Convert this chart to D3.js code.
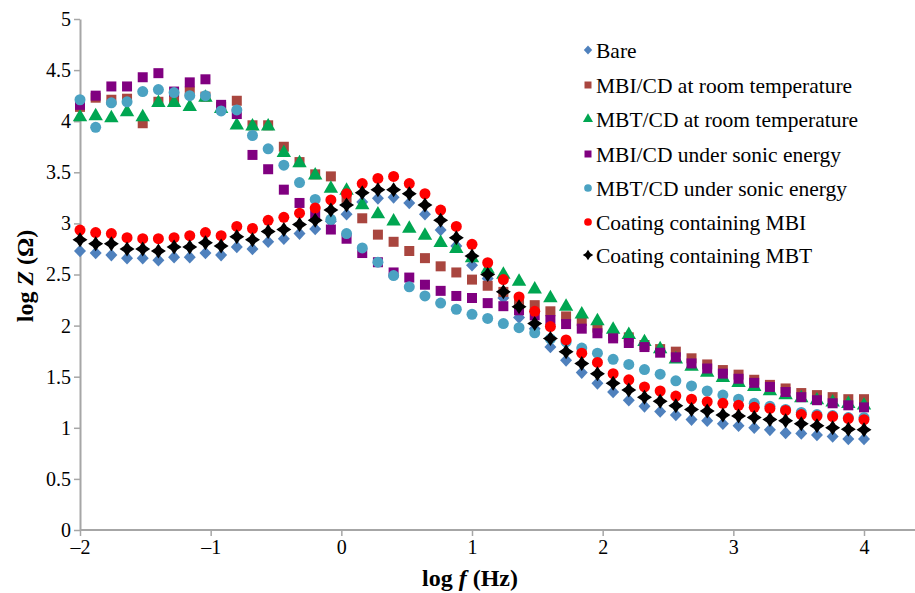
<!DOCTYPE html>
<html><head><meta charset="utf-8">
<script src="https://cdn.jsdelivr.net/npm/d3@7"></script>
<style>
html,body{margin:0;padding:0;background:#fff;}
svg text{font-family:"Liberation Serif","Times New Roman",serif;}
</style></head>
<body>
<svg id="chart" width="915" height="593"></svg>
<script>
// log f values (51 points, -2 .. 4)
const logF = [-2,-1.88,-1.76,-1.64,-1.52,-1.4,-1.28,-1.16,-1.04,-0.92,-0.8,-0.68,-0.56,-0.44,-0.32,-0.2,-0.08,0.04,0.16,0.28,0.4,0.52,0.64,0.76,0.88,1,1.12,1.24,1.36,1.48,1.6,1.72,1.84,1.96,2.08,2.2,2.32,2.44,2.56,2.68,2.8,2.92,3.04,3.16,3.28,3.4,3.52,3.64,3.76,3.88,4];

const bare = [2.73,2.71,2.69,2.66,2.66,2.64,2.67,2.67,2.71,2.69,2.77,2.75,2.82,2.85,2.90,2.945,3.02,3.09,3.21,3.245,3.255,3.20,3.09,2.935,2.78,2.59,2.46,2.27,2.08,1.97,1.79,1.66,1.54,1.435,1.35,1.27,1.21,1.16,1.125,1.08,1.07,1.04,1.02,1.00,0.98,0.95,0.945,0.93,0.915,0.89,0.89];
const mbiRoom = [4.14,4.23,4.21,4.22,3.98,4.19,4.21,4.29,4.24,4.14,4.20,3.96,3.96,3.75,3.60,3.48,3.46,3.25,3.05,2.89,2.82,2.73,2.66,2.58,2.52,2.45,2.39,2.33,2.25,2.20,2.14,2.09,2.045,1.98,1.90,1.885,1.81,1.77,1.745,1.68,1.62,1.565,1.52,1.47,1.42,1.385,1.34,1.32,1.30,1.28,1.28];
const mbtRoom = [4.04,4.05,4.03,4.09,4.04,4.18,4.18,4.14,4.23,4.12,3.96,3.95,3.95,3.69,3.59,3.47,3.34,3.32,3.18,3.09,3.02,2.95,2.88,2.81,2.75,2.66,2.55,2.50,2.43,2.355,2.27,2.185,2.11,2.045,1.96,1.91,1.84,1.77,1.67,1.60,1.54,1.49,1.44,1.40,1.36,1.32,1.29,1.27,1.25,1.235,1.22];
const mbiSonic = [4.16,4.25,4.34,4.34,4.43,4.47,4.29,4.38,4.41,4.16,4.07,3.67,3.53,3.33,3.20,3.08,2.94,2.85,2.71,2.62,2.52,2.47,2.40,2.34,2.29,2.27,2.22,2.19,2.15,2.10,2.055,2.015,1.97,1.925,1.875,1.83,1.79,1.735,1.69,1.63,1.58,1.53,1.48,1.44,1.40,1.35,1.30,1.27,1.24,1.22,1.20];
const mbtSonic = [4.21,3.94,4.18,4.19,4.29,4.31,4.28,4.25,4.25,4.10,4.11,3.86,3.73,3.57,3.40,3.235,3.04,2.90,2.76,2.62,2.49,2.38,2.29,2.22,2.16,2.11,2.07,2.02,1.98,1.93,1.87,1.84,1.78,1.73,1.67,1.62,1.57,1.525,1.46,1.41,1.36,1.32,1.28,1.24,1.21,1.18,1.15,1.13,1.12,1.10,1.10];
const coatMBI = [2.935,2.91,2.90,2.86,2.85,2.85,2.86,2.88,2.91,2.88,2.97,2.95,3.03,3.06,3.10,3.15,3.23,3.29,3.39,3.44,3.46,3.39,3.29,3.13,2.97,2.795,2.615,2.45,2.28,2.14,1.99,1.86,1.73,1.64,1.53,1.47,1.40,1.36,1.31,1.28,1.255,1.24,1.22,1.20,1.19,1.17,1.13,1.115,1.11,1.09,1.08];
const coatMBT = [2.84,2.80,2.80,2.75,2.75,2.73,2.77,2.77,2.81,2.78,2.87,2.84,2.92,2.94,2.99,3.03,3.13,3.18,3.30,3.33,3.33,3.29,3.18,3.03,2.86,2.68,2.50,2.33,2.185,2.02,1.875,1.745,1.63,1.53,1.435,1.37,1.30,1.26,1.215,1.18,1.165,1.125,1.115,1.10,1.08,1.07,1.04,1.02,1.00,0.985,0.98];

const seriesNames = ["Bare","MBI/CD at room temperature","MBT/CD at room temperature","MBI/CD under sonic energy","MBT/CD under sonic energy","Coating containing MBI","Coating containing MBT"];
const seriesValues = [bare, mbiRoom, mbtRoom, mbiSonic, mbtSonic, coatMBI, coatMBT];
const seriesColors = ["#4F81BD","#A9463F","#00A651","#800080","#4BA2C2","#FF0000","#000000"];
const seriesShapes = ["diamond","square","triangle","square","circle","circle","star"];

const xTicks = [-2,-1,0,1,2,3,4];
const xTickLabels = ["\u20132","\u20131","0","1","2","3","4"];
const yTicks = [0,0.5,1,1.5,2,2.5,3,3.5,4,4.5,5];

const svg = d3.select("#chart");
const x = d3.scaleLinear().domain([-2,4]).range([80,864]);
const y = d3.scaleLinear().domain([0,5]).range([530,19]);

const axisColor = "#A6A6A6";

// y axis
const yAxis = svg.append("g").attr("transform","translate(80,0)")
  .call(d3.axisLeft(y).tickValues(yTicks).tickSize(6).tickSizeOuter(0).tickFormat(d3.format("")));
yAxis.select(".domain").attr("stroke",axisColor).attr("stroke-width",2);
yAxis.selectAll(".tick line").attr("stroke",axisColor).attr("stroke-width",1.5);
yAxis.selectAll(".tick text").attr("font-size",20).attr("fill","#000").attr("x",-9)
  .attr("font-family","Liberation Serif, serif");

// x axis
const xAxis = svg.append("g").attr("transform","translate(0,530)")
  .call(d3.axisBottom(x).tickValues(xTicks).tickSize(6).tickSizeOuter(0).tickFormat((d,i)=>xTickLabels[i]));
xAxis.select(".domain").attr("d","M80,0H915").attr("stroke",axisColor).attr("stroke-width",2);
xAxis.selectAll(".tick line").attr("stroke",axisColor).attr("stroke-width",1.5);
xAxis.selectAll(".tick text").attr("font-size",20).attr("fill","#000").attr("y",10)
  .attr("font-family","Liberation Serif, serif");

// axis titles
const yt = svg.append("text").attr("transform","translate(33,276) rotate(-90)")
  .attr("text-anchor","middle").attr("font-size",24).attr("font-weight","bold");
yt.append("tspan").text("log ");
yt.append("tspan").attr("font-style","italic").text("Z");
yt.append("tspan").text(" (\u03A9)");

const xt = svg.append("text").attr("x",470).attr("y",586)
  .attr("text-anchor","middle").attr("font-size",24).attr("font-weight","bold");
xt.append("tspan").text("log ");
xt.append("tspan").attr("font-style","italic").text("f");
xt.append("tspan").text(" (Hz)");

function diamondPath(r){
  return `M0,${-r*1.05}L${r},0L0,${r*1.05}L${-r},0Z`;
}
function starPath(r){
  // four-pointed star (concave diamond)
  const k = r*0.4;
  return `M0,${-r}L${k},${-k}L${r},0L${k},${k}L0,${r}L${-k},${k}L${-r},0L${-k},${-k}Z`;
}
function shapePath(shape, s){
  switch(shape){
    case "diamond": return diamondPath(s*0.6);
    case "square": return d3.symbol().type(d3.symbolSquare).size(s*s)();
    case "triangle": return d3.symbol().type(d3.symbolTriangle).size(s*s*0.9)();
    case "circle": return d3.symbol().type(d3.symbolCircle).size(s*s*0.95)();
    case "star": return starPath(s*0.75);
  }
}

const g = svg.append("g");
seriesValues.forEach((vals, si) => {
  const shape = seriesShapes[si];
  g.append("g").selectAll("path").data(vals).join("path")
    .attr("transform",(d,i)=>`translate(${x(logF[i])},${y(d)})`)
    .attr("d", shapePath(shape, 10))
    .attr("fill", seriesColors[si]);
});

// legend
const legendY = [50,85,119,154,188,222,255];
const lg = svg.append("g");
seriesNames.forEach((name, si) => {
  const shape = seriesShapes[si];
  lg.append("path").attr("transform",`translate(588,${legendY[si]})`)
    .attr("d", shapePath(shape, 7))
    .attr("fill", seriesColors[si]);
  lg.append("text").attr("x",596).attr("y",legendY[si]).attr("dy","0.35em")
    .attr("font-size",21.5).text(name);
});
</script>
</body></html>
